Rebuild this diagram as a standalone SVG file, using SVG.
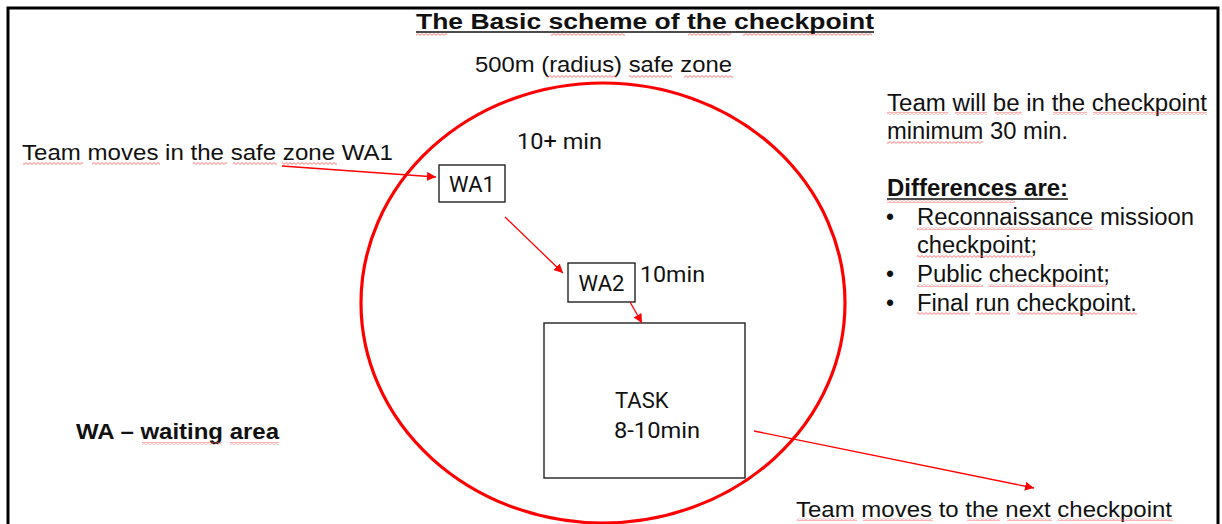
<svg xmlns="http://www.w3.org/2000/svg" width="1222" height="524" viewBox="0 0 1222 524">
<style>
  .t{font-family:"Liberation Sans",Arial,sans-serif;font-size:22px;fill:#111}
  .n{font-size:23px}
  .r{font-family:Roboto,"Liberation Sans",sans-serif;font-size:22px;fill:#111}
  .b{font-weight:bold}
  .box{fill:#fff;stroke:#222;stroke-width:1.4}
  .con{stroke:#f00;stroke-width:1.3;fill:none;marker-end:url(#ah)}
  .sq{fill:url(#wave)}
</style>
<defs>
  <marker id="ah" viewBox="0 0 10 10" refX="10" refY="5" markerWidth="9" markerHeight="9" markerUnits="userSpaceOnUse" orient="auto">
    <path d="M0,0 L10,5 L0,10 z" fill="#f00"/>
  </marker>
  <pattern id="wave" patternUnits="userSpaceOnUse" x="0" y="0" width="4" height="3">
    <path d="M0,2.4 L2,0.6 L4,2.4" fill="none" stroke="#f55" stroke-width="0.8"/>
  </pattern>
</defs>
<rect width="1222" height="524" fill="#fff"/>
<path d="M8,530 V8 H1218 V530" fill="none" stroke="#000" stroke-width="3"/>

<g id="title">
  <text class="t b" x="416" y="29" font-size="27" textLength="458" lengthAdjust="spacingAndGlyphs">The Basic scheme of the checkpoint</text>
  <line x1="416" y1="32" x2="874" y2="32" stroke="#111" stroke-width="1.6"/>
</g>
<g id="safe-zone-label">
  <text class="t" x="475" y="72" font-size="25" textLength="257" lengthAdjust="spacingAndGlyphs">500m (radius) safe zone</text>
</g>
<g id="safe-zone">
  <ellipse cx="603" cy="303" rx="242" ry="220" fill="none" stroke="#f00" stroke-width="3.2"/>
</g>

<g id="label-moves-in">
  <text class="t" x="22" y="160" textLength="371" lengthAdjust="spacingAndGlyphs">Team moves in the safe zone WA1</text>
</g>
<g id="label-10plus">
  <text class="r" x="517" y="149" textLength="85" lengthAdjust="spacingAndGlyphs">10+ min</text>
</g>
<g id="WA1">
  <rect class="box" x="439" y="165" width="66" height="37"/>
  <text class="r" x="472" y="192" text-anchor="middle">WA1</text>
</g>
<g id="WA2">
  <rect class="box" x="568" y="263" width="67" height="39"/>
  <text class="r" x="601.5" y="291" text-anchor="middle">WA2</text>
</g>
<g id="label-10min">
  <text class="r" x="640" y="282" textLength="65" lengthAdjust="spacingAndGlyphs">10min</text>
</g>
<g id="TASK">
  <rect class="box" x="544" y="323" width="201" height="155"/>
  <text class="r" x="615" y="408">TASK</text>
  <text class="r" x="614" y="438" textLength="86" lengthAdjust="spacingAndGlyphs">8-10min</text>
</g>
<g id="legend">
  <text class="t b" x="76" y="439" textLength="203" lengthAdjust="spacingAndGlyphs">WA – waiting area</text>
</g>
<g id="notes">
  <text class="t n" x="887" y="111" textLength="320" lengthAdjust="spacingAndGlyphs">Team will be in the checkpoint</text>
  <text class="t n" x="887" y="139" textLength="181" lengthAdjust="spacingAndGlyphs">minimum 30 min.</text>
  <text class="t n b" x="887" y="196" textLength="181" lengthAdjust="spacingAndGlyphs">Differences are:</text>
  <line x1="887" y1="199" x2="1068" y2="199" stroke="#111" stroke-width="1.3"/>
  <text class="t n" x="886" y="225">•</text>
  <text class="t n" x="917" y="225" textLength="277" lengthAdjust="spacingAndGlyphs">Reconnaissance missioon</text>
  <text class="t n" x="917" y="253" textLength="120" lengthAdjust="spacingAndGlyphs">checkpoint;</text>
  <text class="t n" x="886" y="282">•</text>
  <text class="t n" x="917" y="282" textLength="193" lengthAdjust="spacingAndGlyphs">Public checkpoint;</text>
  <text class="t n" x="886" y="311">•</text>
  <text class="t n" x="917" y="311" textLength="220" lengthAdjust="spacingAndGlyphs">Final run checkpoint.</text>
</g>
<g id="label-next">
  <text class="t" x="796" y="517" textLength="376" lengthAdjust="spacingAndGlyphs">Team moves to the next checkpoint</text>
</g>

<g id="spellcheck">
  <rect class="sq" x="416" y="33" width="31" height="3"/>
  <rect class="sq" x="551" y="33" width="74" height="3"/>
  <rect class="sq" x="688" y="33" width="43" height="3"/>
  <rect class="sq" x="743" y="33" width="129" height="3"/>
  <rect class="sq" x="547" y="75" width="70" height="3"/>
  <rect class="sq" x="629" y="75" width="43" height="3"/>
  <rect class="sq" x="684" y="75" width="49" height="3"/>
  <rect class="sq" x="23" y="162" width="60" height="3"/>
  <rect class="sq" x="92" y="162" width="68" height="3"/>
  <rect class="sq" x="193" y="162" width="34" height="3"/>
  <rect class="sq" x="233" y="162" width="44" height="3"/>
  <rect class="sq" x="282" y="162" width="55" height="3"/>
  <rect class="sq" x="887" y="112" width="61" height="3"/>
  <rect class="sq" x="955" y="112" width="32" height="3"/>
  <rect class="sq" x="995" y="112" width="27" height="3"/>
  <rect class="sq" x="1053" y="112" width="34" height="3"/>
  <rect class="sq" x="1093" y="112" width="114" height="3"/>
  <rect class="sq" x="887" y="141" width="96" height="3"/>
  <rect class="sq" x="887" y="200" width="128" height="3"/>
  <rect class="sq" x="917" y="227" width="176" height="3"/>
  <rect class="sq" x="917" y="255" width="116" height="3"/>
  <rect class="sq" x="917" y="284" width="66" height="3"/>
  <rect class="sq" x="988" y="284" width="119" height="3"/>
  <rect class="sq" x="917" y="312" width="53" height="3"/>
  <rect class="sq" x="975" y="312" width="35" height="3"/>
  <rect class="sq" x="1017" y="312" width="120" height="3"/>
  <rect class="sq" x="142" y="442" width="80" height="3"/>
  <rect class="sq" x="230" y="442" width="49" height="3"/>
  <rect class="sq" x="797" y="518" width="60" height="3"/>
  <rect class="sq" x="863" y="518" width="70" height="3"/>
  <rect class="sq" x="967" y="518" width="33" height="3"/>
  <rect class="sq" x="1007" y="518" width="45" height="3"/>
  <rect class="sq" x="1058" y="518" width="115" height="3"/>
</g>

<g id="connectors">
  <line class="con" x1="282" y1="166" x2="436" y2="177"/>
  <line class="con" x1="505" y1="217" x2="563" y2="273"/>
  <line class="con" x1="630" y1="302" x2="642" y2="323"/>
  <line class="con" x1="754" y1="431" x2="1034" y2="488"/>
</g>
</svg>
